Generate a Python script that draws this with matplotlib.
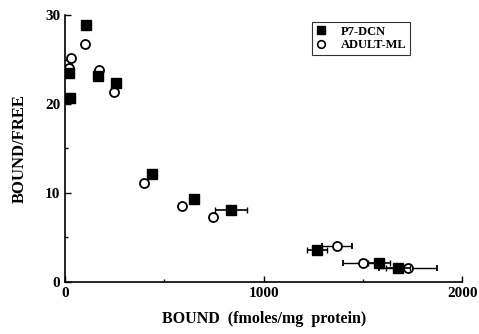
import matplotlib
matplotlib.use("Agg")
import matplotlib.pyplot as plt
from matplotlib.ticker import MultipleLocator
from matplotlib.lines import Line2D

p7_x = [25, 20, 106, 165, 257, 436, 651, 836, 1270, 1582, 1677]
p7_y = [20.7, 23.5, 28.9, 23.1, 22.4, 12.1, 9.3, 8.1, 3.6, 2.1, 1.6]
p7_xerr = [0, 0, 0, 0, 0, 20, 20, 80, 50, 55, 60]

ad_x = [30, 20, 101, 171, 247, 398, 589, 746, 1370, 1500, 1728]
ad_y = [25.2, 24.0, 26.7, 23.8, 21.3, 11.1, 8.5, 7.3, 4.0, 2.1, 1.6]
ad_xerr = [0, 0, 0, 0, 0, 0, 0, 0, 75, 100, 145]

plt.rcParams['font.family'] = ['Liberation Serif', 'DejaVu Serif']
plt.rcParams['font.weight'] = 'bold'

fig = plt.figure(figsize=(4.79, 3.34), dpi=100)
ax = fig.add_axes([0.136, 0.156, 0.829, 0.799])

ax.errorbar(ad_x, ad_y, xerr=ad_xerr, fmt='o', ms=6.5, mfc='white', mec='black',
            mew=1.3, ecolor='black', elinewidth=1, capsize=2.5, zorder=3)
ax.errorbar(p7_x, p7_y, xerr=p7_xerr, fmt='s', ms=7, mfc='black', mec='black',
            ecolor='black', elinewidth=1.2, capsize=2.5, zorder=4)

ax.set_xlim(0, 2000)
ax.set_ylim(0, 30)
ax.spines['top'].set_visible(False)
ax.spines['right'].set_visible(False)
for s in ['left', 'bottom']:
    ax.spines[s].set_linewidth(1.2)
ax.xaxis.set_major_locator(MultipleLocator(1000))
ax.xaxis.set_minor_locator(MultipleLocator(500))
ax.yaxis.set_major_locator(MultipleLocator(10))
ax.yaxis.set_minor_locator(MultipleLocator(5))
ax.tick_params(direction='in', length=4, width=1, labelsize=11)
ax.tick_params(which='minor', direction='in', length=2.5, width=1)
for lab in ax.get_xticklabels() + ax.get_yticklabels():
    lab.set_fontweight('bold')

ax.set_xlabel('BOUND  (fmoles/mg  protein)', fontsize=11.5, fontweight='bold', labelpad=8)
ax.set_ylabel('BOUND/FREE', fontsize=12, fontweight='bold', labelpad=12)

handles = [
    Line2D([], [], ls='none', marker='s', ms=6, mfc='black', mec='black'),
    Line2D([], [], ls='none', marker='o', ms=5.5, mfc='white', mec='black', mew=1.2),
]
labels = ['P7-DCN', 'ADULT-ML']
leg = ax.legend(handles, labels, loc='upper left',
                bbox_to_anchor=(312 / 479, 1 - 22 / 334), bbox_transform=fig.transFigure,
                frameon=True, fancybox=False,
                edgecolor='black', fontsize=9, handlelength=0.8, handletextpad=1.2,
                borderpad=0.3, labelspacing=0.1, borderaxespad=0)
leg.get_frame().set_linewidth(0.8)
for t in leg.get_texts():
    t.set_fontweight('bold')

fig.savefig('out.png', dpi=100)
